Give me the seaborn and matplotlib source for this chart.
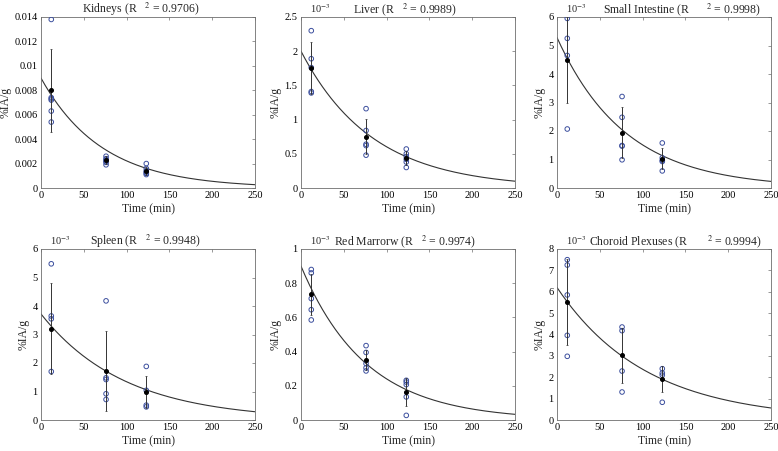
import numpy as np
import pandas as pd
import matplotlib
matplotlib.use("Agg")
import matplotlib.pyplot as plt
import seaborn as sns
from matplotlib.ticker import FuncFormatter, MultipleLocator

sns.set_theme(style="white")
plt.rcParams['font.family'] = ['Liberation Serif', 'DejaVu Serif']
plt.rcParams['mathtext.fontset'] = 'stix'

# ---------------------------------------------------------------
# data (kidneys in %IA/g, others in 10^-3 %IA/g)
# ---------------------------------------------------------------
organs = ['Kidneys', 'Liver', 'Small Intestine', 'Spleen', 'Red Marrorw', 'Choroid Plexuses']
r2_values = ['0.9706', '0.9989', '0.9998', '0.9948', '0.9974', '0.9994']
times = [12, 76, 123]

kidneys_pts = [[0.0138, 0.0074, 0.0073, 0.0072, 0.0063, 0.0054],
               [0.0026, 0.0024, 0.0023, 0.0022, 0.0021, 0.0019],
               [0.0020, 0.0016, 0.0014, 0.0013, 0.0012, 0.0011]]
liver_pts = [[2.30, 1.89, 1.76, 1.41, 1.39],
             [1.16, 0.84, 0.64, 0.62, 0.48],
             [0.57, 0.50, 0.46, 0.42, 0.38, 0.30]]
intestine_pts = [[5.95, 5.25, 4.65, 2.07],
                 [3.21, 2.48, 1.49, 1.47, 0.99],
                 [1.58, 1.06, 0.97, 0.93, 0.60]]
spleen_pts = [[5.48, 3.65, 3.55, 1.70],
              [4.18, 1.48, 1.42, 0.92, 0.72],
              [1.88, 1.04, 0.52, 0.46]]
marrow_pts = [[0.88, 0.86, 0.71, 0.645, 0.585],
              [0.435, 0.395, 0.33, 0.305, 0.287],
              [0.232, 0.222, 0.207, 0.135, 0.027]]
choroid_pts = [[7.50, 7.25, 5.85, 3.96, 2.98],
               [4.35, 4.18, 2.29, 1.31],
               [2.40, 2.20, 2.10, 0.83]]

kidneys_mean, kidneys_sd = [0.0080, 0.0023, 0.0014], [0.0034, 0.0003, 0.0003]
liver_mean, liver_sd = [1.76, 0.75, 0.44], [0.38, 0.26, 0.10]
intestine_mean, intestine_sd = [4.50, 1.94, 1.03], [1.50, 0.90, 0.36]
spleen_mean, spleen_sd = [3.21, 1.73, 0.98], [1.60, 1.40, 0.57]
marrow_mean, marrow_sd = [0.735, 0.352, 0.163], [0.12, 0.06, 0.08]
choroid_mean, choroid_sd = [5.52, 3.03, 1.90], [2.00, 1.28, 0.61]

# mono-exponential fit parameters (A * exp(-k t))
fit_A = [0.009, 2.0, 5.28, 3.72, 0.90, 6.2]
fit_k = [0.014, 0.012, 0.0125, 0.0102, 0.0132, 0.0096]

y_max = [0.014, 2.5, 6, 6, 1, 8]
y_step = [0.002, 0.5, 1, 1, 0.2, 1]
has_offset = [False, True, True, True, True, True]
title_gap = [3, 3, 6, 3, 3, 7]   # MATLAB leaves a wide gap before the superscript
title_x = [0.465, 0.486, 0.582, 0.486, 0.486, 0.551]

all_pts = [kidneys_pts, liver_pts, intestine_pts, spleen_pts, marrow_pts, choroid_pts]
all_mean = [kidneys_mean, liver_mean, intestine_mean, spleen_mean, marrow_mean, choroid_mean]
all_sd = [kidneys_sd, liver_sd, intestine_sd, spleen_sd, marrow_sd, choroid_sd]

# ---------------------------------------------------------------
# figure
# ---------------------------------------------------------------
fig = plt.figure(figsize=(7.78, 4.51), dpi=100)
lefts = [41, 301, 557]
tops = [17, 249]
w_px, h_px = 214, 171

blue = '#3c4f9e'
edge = '#6e6e6e'

for i, organ in enumerate(organs):
    row, col = divmod(i, 3)
    ax = fig.add_axes([lefts[col] / 778, 1 - (tops[row] + h_px) / 451,
                       w_px / 778, h_px / 451])

    df = pd.DataFrame([(t, v) for t, vals in zip(times, all_pts[i]) for v in vals],
                      columns=['Time', 'Value'])
    sns.scatterplot(data=df, x='Time', y='Value', ax=ax, marker='o', s=11,
                    facecolor='none', edgecolor=blue, linewidth=0.7, zorder=3)

    t_fit = np.linspace(0, 250, 300)
    fit_df = pd.DataFrame({'Time': t_fit, 'Value': fit_A[i] * np.exp(-fit_k[i] * t_fit)})
    sns.lineplot(data=fit_df, x='Time', y='Value', ax=ax, color='#333333', lw=0.8, zorder=2)

    ax.errorbar(times, all_mean[i], yerr=all_sd[i], fmt='o', color='black',
                ms=2.6, ecolor='#333333', elinewidth=0.7, capsize=1.0, capthick=0.5,
                zorder=4)

    ax.set_xlim(0, 250)
    ax.set_ylim(0, y_max[i])
    ax.xaxis.set_major_locator(MultipleLocator(50))
    ax.yaxis.set_major_locator(MultipleLocator(y_step[i]))
    ax.yaxis.set_major_formatter(FuncFormatter(lambda v, p: f'{round(v, 6):g}'))
    ax.tick_params(direction='in', length=2.5, width=0.5, color=edge,
                   top=True, right=True, labelsize=7.5, pad=2.5, labelcolor='black')
    for sp in ax.spines.values():
        sp.set_color(edge)
        sp.set_linewidth(0.6)

    ax.set_xlabel('Time (min)', fontsize=8.5, labelpad=2)
    ax.set_ylabel('%IA/g', fontsize=8.5, labelpad=2)
    gap = ' ' * title_gap[i]
    ax.set_title(f'{organ} (R{gap}${{}}^{{2}}$ = {r2_values[i]})', fontsize=8.5, pad=3,
                 x=title_x[i])
    if has_offset[i]:
        ax.text(0.04, 1.01, r'10$^{-3}$', transform=ax.transAxes, fontsize=7.5,
                ha='left', va='bottom')

fig.savefig('out.png', dpi=100)
